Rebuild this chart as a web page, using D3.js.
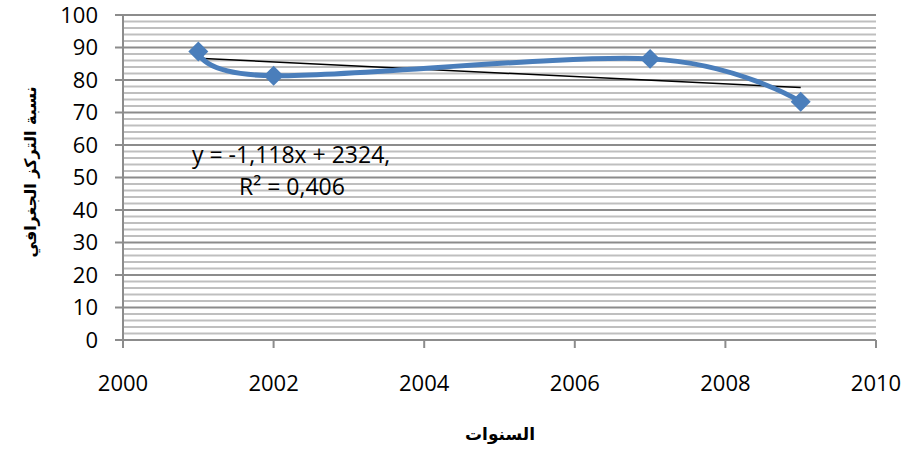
<!DOCTYPE html>
<html>
<head>
<meta charset="utf-8">
<script src="https://cdn.jsdelivr.net/npm/d3@7"></script>
<style>
  body { margin: 0; background: #fff; }
  svg text { font-family: "Open Sans", Lato, sans-serif; }
</style>
</head>
<body>
<svg width="904" height="450"></svg>
<script>
const years = [2001, 2002, 2007, 2009];
const values = [88.8, 81.3, 86.5, 73.3];
const xTicks = [2000, 2002, 2004, 2006, 2008, 2010];
const yTicks = [0, 10, 20, 30, 40, 50, 60, 70, 80, 90, 100];
const eqLines = ['y = -1,118x + 2324,', 'R\u00b2 = 0,406'];
const xTitle = 'السنوات';
const yTitle = 'نسبة التركز الجغرافي';

const svg = d3.select('svg');
const margin = {left: 123, right: 28, top: 15, bottom: 110};
const width = 904 - margin.left - margin.right;
const height = 450 - margin.top - margin.bottom;

const x = d3.scaleLinear().domain([2000, 2010]).range([margin.left, margin.left + width]);
const y = d3.scaleLinear().domain([0, 100]).range([margin.top + height, margin.top]);

// minor gridlines every 2
const g = svg.append('g');
g.selectAll('line.minor').data(d3.range(2, 100, 2).filter(v => v % 10 !== 0))
  .enter().append('line')
  .attr('x1', x(2000)).attr('x2', x(2010))
  .attr('y1', d => y(d)).attr('y2', d => y(d))
  .attr('stroke', '#bfbfbf').attr('stroke-width', 2);

// major gridlines
g.selectAll('line.major').data(yTicks)
  .enter().append('line')
  .attr('x1', x(2000) - 8).attr('x2', x(2010))
  .attr('y1', d => y(d)).attr('y2', d => y(d))
  .attr('stroke', '#8c8c8c').attr('stroke-width', 2);

// y axis line
svg.append('line')
  .attr('x1', x(2000)).attr('x2', x(2000))
  .attr('y1', y(0)).attr('y2', y(100))
  .attr('stroke', '#8c8c8c').attr('stroke-width', 2);

// x ticks
svg.selectAll('line.xt').data(xTicks)
  .enter().append('line')
  .attr('x1', d => x(d)).attr('x2', d => x(d))
  .attr('y1', y(0)).attr('y2', y(0) + 8)
  .attr('stroke', '#8c8c8c').attr('stroke-width', 2);

svg.selectAll('text.yl').data(yTicks)
  .enter().append('text')
  .attr('x', 98).attr('y', d => y(d)).attr('dy', '0.36em')
  .attr('text-anchor', 'end')
  .attr('font-size', 22)
  .text(d => d);

svg.selectAll('text.xl').data(xTicks)
  .enter().append('text')
  .attr('x', d => x(d)).attr('y', 391)
  .attr('text-anchor', 'middle')
  .attr('font-size', 22)
  .text(d => d);

// trendline (least squares)
const mx = d3.mean(years), my = d3.mean(values);
const slope = d3.sum(years, (v, i) => (v - mx) * (values[i] - my)) / d3.sum(years, v => (v - mx) ** 2);
const icpt = my - slope * mx;
const xr = d3.extent(years);
svg.append('line')
  .attr('x1', x(xr[0])).attr('y1', y(slope * xr[0] + icpt))
  .attr('x2', x(xr[1])).attr('y2', y(slope * xr[1] + icpt))
  .attr('stroke', '#000').attr('stroke-width', 1.5);

// smoothed series
const pts = years.map((v, i) => [v, values[i]]);
svg.append('path')
  .datum(pts)
  .attr('d', d3.line().x(d => x(d[0])).y(d => y(d[1])).curve(d3.curveCatmullRom.alpha(0)))
  .attr('fill', 'none')
  .attr('stroke', '#4a7ebb')
  .attr('stroke-width', 5);

svg.selectAll('path.mk').data(pts)
  .enter().append('path')
  .attr('d', d3.symbol().type(d3.symbolSquare).size(200))
  .attr('transform', d => `translate(${x(d[0])},${y(d[1])}) rotate(45)`)
  .attr('fill', '#4a7ebb');

// equation
svg.append('text').attr('x', 192).attr('y', 163).attr('font-size', 23).text(eqLines[0]);
svg.append('text').attr('x', 239).attr('y', 195).attr('font-size', 23).text(eqLines[1]);

// axis titles
svg.append('text')
  .attr('x', 500).attr('y', 440)
  .attr('text-anchor', 'middle')
  .attr('font-size', 17).attr('font-weight', 'bold')
  .style('font-family', '"DejaVu Sans", sans-serif')
  .attr('direction', 'rtl')
  .text(xTitle);

svg.append('text')
  .attr('transform', 'translate(36,172) rotate(-90)')
  .attr('text-anchor', 'middle')
  .attr('font-size', 16).attr('font-weight', 'bold')
  .style('font-family', '"DejaVu Sans", sans-serif')
  .attr('direction', 'rtl')
  .text(yTitle);
</script>
</body>
</html>
